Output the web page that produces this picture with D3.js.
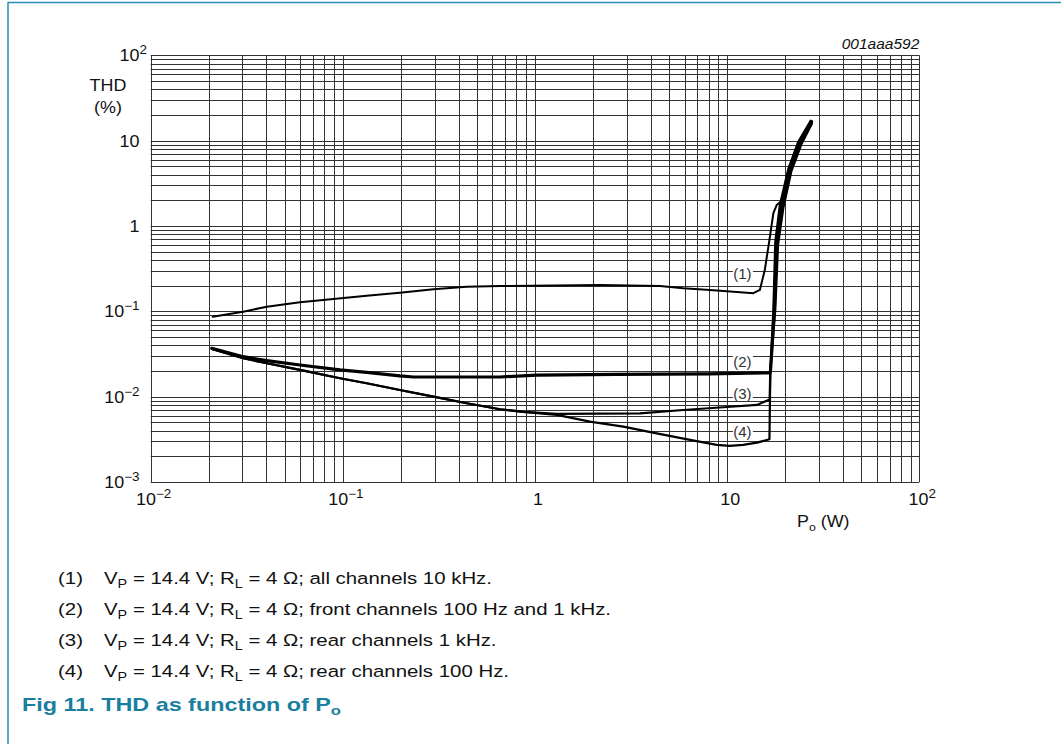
<!DOCTYPE html>
<html>
<head>
<meta charset="utf-8">
<script src="https://cdn.jsdelivr.net/npm/d3@7"></script>
<style>
  html, body { margin: 0; padding: 0; background: #fff; }
  svg { display: block; font-family: Arial, "Liberation Sans", Helvetica, sans-serif; }
</style>
</head>
<body>
<div id="chart"></div>
<script>
// Output power (W) and THD (%), one pair of arrays per curve
const po1 = [0.021, 0.0303, 0.0402, 0.0598, 0.0892, 0.133, 0.198, 0.296, 0.441, 0.658, 2.18, 4.47, 5.91, 8.14, 10.8, 13.7, 14.8, 15.7, 16.7, 17.4, 18.1, 19.5, 21.2, 23.9, 27.5];
const thd1 = [0.0866, 0.0991, 0.1134, 0.1276, 0.1396, 0.1526, 0.1654, 0.1813, 0.1945, 0.198, 0.204, 0.198, 0.186, 0.178, 0.170, 0.163, 0.178, 0.305, 0.75, 1.41, 1.76, 2.02, 4.29, 8.9, 16.5];

const po2 = [0.0208, 0.0303, 0.0402, 0.0598, 0.0966, 0.133, 0.198, 0.233, 0.658, 1.02, 2.66, 8.0, 16.5, 16.8, 17.6, 18.1, 19.2, 21.2, 23.9, 27.5];
const thd2 = [0.0369, 0.0294, 0.0264, 0.0235, 0.0206, 0.0193, 0.0175, 0.0170, 0.0170, 0.0179, 0.0182, 0.0185, 0.0190, 0.0195, 0.104, 0.627, 1.68, 4.53, 9.3, 16.7];

const po3 = [0.0208, 0.0303, 0.0402, 0.0598, 0.0966, 0.133, 0.198, 0.296, 0.441, 0.658, 0.869, 1.30, 3.52, 5.91, 9.55, 14.3, 16.65, 16.75, 17.8, 18.4, 19.6, 21.6, 24.3, 27.6];
const thd3 = [0.0362, 0.0282, 0.0246, 0.0206, 0.01644, 0.01436, 0.01198, 0.0100, 0.00837, 0.00712, 0.00662, 0.00627, 0.00638, 0.00698, 0.00751, 0.0080, 0.00927, 0.0195, 0.104, 0.60, 1.62, 4.4, 9.0, 15.8];

const po4 = [0.0208, 0.0303, 0.0402, 0.0598, 0.0966, 0.133, 0.198, 0.296, 0.441, 0.658, 0.869, 1.30, 1.93, 2.88, 4.30, 6.41, 8.83, 10.3, 12.1, 14.3, 16.6, 16.7, 16.8, 17.4, 17.8, 18.8, 20.8, 23.4, 27.2];
const thd4 = [0.0362, 0.0282, 0.0246, 0.0206, 0.01644, 0.01436, 0.01198, 0.0100, 0.00837, 0.00712, 0.00662, 0.00611, 0.00509, 0.00445, 0.00372, 0.00311, 0.00272, 0.00265, 0.00272, 0.00289, 0.00317, 0.0094, 0.0195, 0.104, 0.65, 1.75, 4.65, 9.6, 17.1];

const curveNames = ['(1)', '(2)', '(3)', '(4)'];
const labelPo = [12, 12, 12, 12];
const labelThd = [0.28, 0.0258, 0.011, 0.0039];

const xTickVals = [0.01, 0.1, 1, 10, 100];
const xTickLabels = [['10', '\u22122'], ['10', '\u22121'], ['1', ''], ['10', ''], ['10', '2']];
const yTickVals = [0.001, 0.01, 0.1, 1, 10, 100];
const yTickLabels = [['10', '\u22123'], ['10', '\u22122'], ['10', '\u22121'], ['1', ''], ['10', ''], ['10', '2']];

const legendTexts = ['all channels 10 kHz.', 'front channels 100 Hz and 1 kHz.', 'rear channels 1 kHz.', 'rear channels 100 Hz.'];

const W = 1061, H = 744;
const teal = '#2a8db3';
const captionColor = '#1a7f9f';
const SX = 1.12;      // chart lettering is a little wider than plain Arial
const SX_LEG = 1.2;   // same for the notes under the chart

const svg = d3.select('#chart')
  .append('svg')
  .attr('width', W)
  .attr('height', H);

// frame (top and left only)
svg.append('line').attr('x1', 8).attr('x2', W).attr('y1', 2.5).attr('y2', 2.5)
  .attr('stroke', teal).attr('stroke-width', 1.5);
svg.append('line').attr('x1', 8).attr('x2', 8).attr('y1', 2).attr('y2', H)
  .attr('stroke', teal).attr('stroke-width', 1.5);

const x = d3.scaleLog().domain([0.01, 100]).range([150.7, 919.3]);
const y = d3.scaleLog().domain([0.001, 100]).range([482, 55.3]);

// grid
const grid = svg.append('g').attr('class', 'grid');
grid.selectAll('.vgrid')
  .data(x.ticks())
  .enter()
  .append('line')
  .attr('class', 'vgrid')
  .attr('x1', d => Math.round(x(d)) + 0.5)
  .attr('x2', d => Math.round(x(d)) + 0.5)
  .attr('y1', y(100))
  .attr('y2', y(0.001))
  .attr('stroke', '#333')
  .attr('stroke-width', 1);

grid.selectAll('.hgrid')
  .data(y.ticks())
  .enter()
  .append('line')
  .attr('class', 'hgrid')
  .attr('x1', x(0.01))
  .attr('x2', x(100))
  .attr('y1', d => Math.round(y(d)) + 0.5)
  .attr('y2', d => Math.round(y(d)) + 0.5)
  .attr('stroke', '#333')
  .attr('stroke-width', 1);

// curves
const series = [
  { po: po1, thd: thd1, w: 2 },
  { po: po2, thd: thd2, w: 3.2 },
  { po: po3, thd: thd3, w: 2.2 },
  { po: po4, thd: thd4, w: 2.2 }
];

const line = d3.line()
  .x(d => x(d[0]))
  .y(d => y(d[1]));

svg.selectAll('.curve')
  .data(series)
  .enter()
  .append('path')
  .attr('class', 'curve')
  .attr('d', s => line(s.po.map((p, i) => [p, s.thd[i]])))
  .attr('fill', 'none')
  .attr('stroke', '#000')
  .attr('stroke-width', s => s.w)
  .attr('stroke-linejoin', 'round')
  .attr('stroke-linecap', 'round');

// curve labels on white patches
const lab = svg.selectAll('.curve-label')
  .data(curveNames)
  .enter()
  .append('g')
  .attr('class', 'curve-label')
  .attr('transform', (d, i) => 'translate(' + x(labelPo[i]) + ',' + y(labelThd[i]) + ')');

lab.append('rect')
  .attr('x', -9.5).attr('y', -7)
  .attr('width', 20).attr('height', 14)
  .attr('fill', '#fff');

lab.append('text')
  .attr('text-anchor', 'middle')
  .attr('y', 5.5)
  .attr('font-size', 15)
  .attr('fill', '#333')
  .text(d => d);

// y tick labels ("10" of 10^2 lines up with the other numbers, its exponent hangs out)
const yl = svg.selectAll('.ylab')
  .data(yTickVals)
  .enter()
  .append('text')
  .attr('class', 'ylab')
  .attr('transform', (d, i) => 'translate(' + (yTickLabels[i][1] === '2' ? 147 : 139.5) + ',' + (y(d) + 6) + ') scale(' + SX + ',1)')
  .attr('text-anchor', 'end')
  .attr('font-size', 16)
  .attr('fill', '#111');
yl.append('tspan').text((d, i) => yTickLabels[i][0]);
yl.append('tspan').attr('dy', -7).attr('font-size', 12).text((d, i) => yTickLabels[i][1]);

// x tick labels
const xl = svg.selectAll('.xlab')
  .data(xTickVals)
  .enter()
  .append('text')
  .attr('class', 'xlab')
  .attr('transform', d => 'translate(' + (x(d) + 3) + ',505) scale(' + SX + ',1)')
  .attr('text-anchor', 'middle')
  .attr('font-size', 16)
  .attr('fill', '#111');
xl.append('tspan').text((d, i) => xTickLabels[i][0]);
xl.append('tspan').attr('dy', -7).attr('font-size', 12).text((d, i) => xTickLabels[i][1]);

// axis titles
svg.append('text').attr('transform', 'translate(108,90.5) scale(' + SX + ',1)').attr('text-anchor', 'middle')
  .attr('font-size', 16).attr('fill', '#111').text('THD');
svg.append('text').attr('transform', 'translate(108,112.5) scale(' + SX + ',1)').attr('text-anchor', 'middle')
  .attr('font-size', 16).attr('fill', '#111').text('(%)');

const xt = svg.append('text').attr('transform', 'translate(797,527) scale(' + SX + ',1)')
  .attr('font-size', 16).attr('fill', '#111');
xt.append('tspan').text('P');
xt.append('tspan').attr('dy', 4).attr('font-size', 11).text('o');
xt.append('tspan').attr('dy', -4).text(' (W)');

svg.append('text').attr('x', 919.3).attr('y', 49)
  .attr('text-anchor', 'end').attr('font-size', 15.5).attr('font-style', 'italic')
  .attr('fill', '#111').text('001aaa592');

// legend below the chart
const leg = svg.selectAll('.legend')
  .data(legendTexts)
  .enter()
  .append('g')
  .attr('class', 'legend')
  .attr('transform', (d, i) => 'translate(0,' + (584 + i * 31) + ')')
  .attr('font-size', 17)
  .attr('fill', '#111');

leg.append('text').attr('transform', 'translate(58,0) scale(' + SX_LEG + ',1)').text((d, i) => curveNames[i]);
const lt = leg.append('text').attr('transform', 'translate(104,0) scale(' + SX_LEG + ',1)');
lt.append('tspan').text('V');
lt.append('tspan').attr('dy', 4).attr('font-size', 12).text('P');
lt.append('tspan').attr('dy', -4).text(' = 14.4 V; R');
lt.append('tspan').attr('dy', 4).attr('font-size', 12).text('L');
lt.append('tspan').attr('dy', -4).text(d => ' = 4 \u03A9; ' + d);

const cap = svg.append('text').attr('transform', 'translate(22,711) scale(1.23,1)')
  .attr('font-size', 19).attr('font-weight', 'bold').attr('fill', captionColor);
cap.append('tspan').text('Fig 11.  THD as function of P');
cap.append('tspan').attr('dy', 4).attr('font-size', 13.5).text('o');
</script>
</body>
</html>
